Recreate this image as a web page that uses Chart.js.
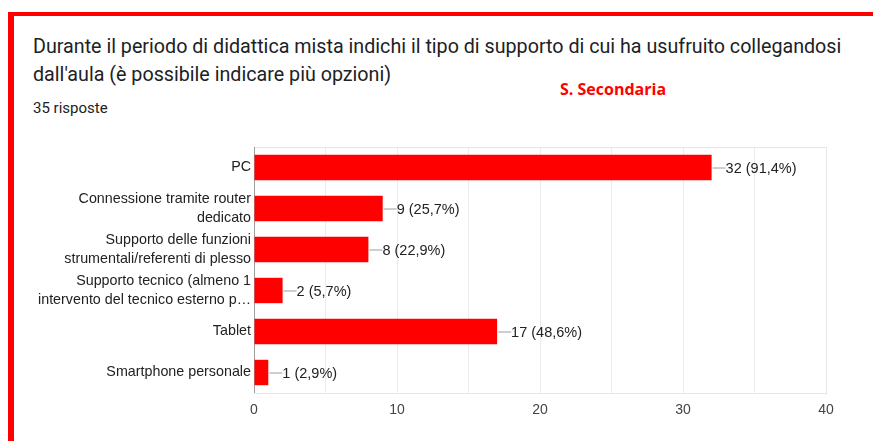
<!DOCTYPE html>
<html>
<head>
<meta charset="utf-8">
<script src="https://cdn.jsdelivr.net/npm/chart.js@4"></script>
<style>
  html, body { margin: 0; padding: 0; background: #fff; }
  body { width: 873px; height: 441px; position: relative; overflow: hidden; font-family: Roboto, "Liberation Sans", Arial, sans-serif; }
  #bordo { position: absolute; left: 8px; top: 12px; width: 865px; height: 440px; border-top: 4px solid #ff0000; border-left: 6px solid #ff0000; box-sizing: border-box; }
  #titolo { position: absolute; left: 33px; top: 33px; width: 835px; font-size: 19.7px; line-height: 28px; color: #202124; white-space: nowrap; }
  #risposte { position: absolute; left: 33px; top: 99px; font-size: 15px; color: #202124; }
  #scuola { position: absolute; left: 560px; top: 78px; font-size: 16px; font-weight: bold; color: #ff0000; font-family: "Liberation Sans Narrow", "Open Sans", sans-serif; }
  #wrap { position: absolute; left: 0; top: 0; width: 873px; height: 441px; }
</style>
</head>
<body>
<div id="bordo"></div>
<div id="titolo">Durante il periodo di didattica mista indichi il tipo di supporto di cui ha usufruito collegandosi<br>dall'aula (è possibile indicare più opzioni)</div>
<div id="scuola">S. Secondaria</div>
<div id="risposte">35 risposte</div>
<div id="wrap"><canvas id="grafico"></canvas></div>
<script>
// dati
const categorie = [
  ['PC'],
  ['Connessione tramite router', 'dedicato'],
  ['Supporto delle funzioni', 'strumentali/referenti di plesso'],
  ['Supporto tecnico (almeno 1', 'intervento del tecnico esterno p…'],
  ['Tablet'],
  ['Smartphone personale']
];
const risposte = [32, 9, 8, 2, 17, 1];
const percentuali = ['91,4%', '25,7%', '22,9%', '5,7%', '48,6%', '2,9%'];
const tickX = [0, 10, 20, 30, 40];

// etichette con trattino grigio a destra delle barre
const etichette = {
  id: 'etichette',
  afterDatasetsDraw(chart) {
    const ctx = chart.ctx;
    const meta = chart.getDatasetMeta(0);
    ctx.save();
    ctx.font = '14.5px "Liberation Sans", Arial, sans-serif';
    ctx.textBaseline = 'middle';
    meta.data.forEach((bar, i) => {
      const x = bar.x, y = bar.y;
      ctx.strokeStyle = '#9e9e9e';
      ctx.lineWidth = 1;
      ctx.beginPath();
      ctx.moveTo(x + 1, y + 0.5);
      ctx.lineTo(x + 14, y + 0.5);
      ctx.stroke();
      ctx.fillStyle = '#222';
      ctx.fillText(risposte[i] + ' (' + percentuali[i] + ')', x + 14, y + 1);
    });
    ctx.restore();
  }
};

// bordo grigio chiaro attorno all'area del grafico
const cornice = {
  id: 'cornice',
  beforeDatasetsDraw(chart) {
    const a = chart.chartArea;
    const ctx = chart.ctx;
    ctx.save();
    ctx.strokeStyle = '#e6e6e6';
    ctx.lineWidth = 1;
    ctx.strokeRect(Math.round(a.left) + 0.5, Math.round(a.top) + 0.5, a.right - a.left, a.bottom - a.top);
    ctx.beginPath();
    ctx.strokeStyle = '#9e9e9e';
    ctx.moveTo(Math.round(a.left) + 0.5, a.top);
    ctx.lineTo(Math.round(a.left) + 0.5, a.bottom);
    ctx.stroke();
    ctx.restore();
  }
};

const ctx = document.getElementById('grafico').getContext('2d');
new Chart(ctx, {
  type: 'bar',
  data: {
    labels: categorie,
    datasets: [{
      data: risposte,
      backgroundColor: '#ff0000',
      borderWidth: 0,
      barPercentage: 0.62,
      categoryPercentage: 1
    }]
  },
  options: {
    indexAxis: 'y',
    responsive: true,
    maintainAspectRatio: false,
    animation: false,
    events: [],
    layout: { padding: { left: 0, right: 47, top: 147, bottom: 0 } },
    plugins: { legend: { display: false }, tooltip: { enabled: false } },
    scales: {
      x: {
        min: 0,
        max: 40,
        ticks: {
          stepSize: 5,
          autoSkip: false,
          maxRotation: 0,
          padding: 9,
          color: '#444',
          font: { family: '"Liberation Sans", Arial, sans-serif', size: 14 },
          callback: v => tickX.includes(v) ? String(v) : ''
        },
        grid: { color: '#ebebeb', drawTicks: false },
        border: { display: false },
        afterFit(scale) { scale.height = 48; }
      },
      y: {
        ticks: {
          color: '#222',
          padding: 3,
          font: { family: '"Liberation Sans", Arial, sans-serif', size: 14.3, lineHeight: 1.27 }
        },
        grid: { display: false, drawTicks: false },
        border: { display: false },
        afterFit(scale) { scale.width = 254; }
      }
    }
  },
  plugins: [cornice, etichette]
});
</script>
</body>
</html>
